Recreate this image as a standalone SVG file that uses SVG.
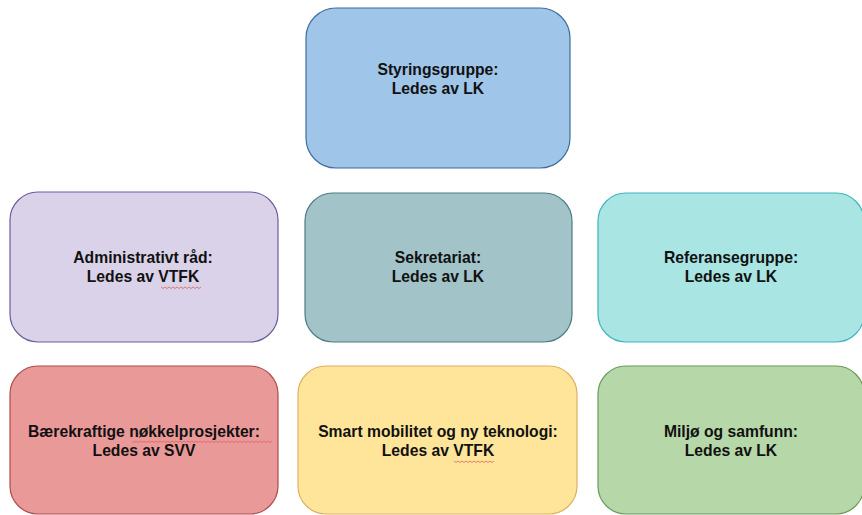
<svg xmlns="http://www.w3.org/2000/svg" width="862" height="515" viewBox="0 0 862 515">
<style>
rect{stroke-width:1.2}
text{font-family:"Liberation Sans",Arial,sans-serif;font-size:15.7px;font-weight:bold;fill:#111;text-anchor:middle}
.sq{fill:none;stroke:#e06060;stroke-width:0.8}
</style>
<rect width="862" height="515" fill="#fff"/>
<g id="connectors"></g>
<g id="styringsgruppe">
<rect x="306" y="8" width="264" height="160" rx="30" fill="#9fc5e8" stroke="#3f6d9f"/>
<text x="438" y="75">Styringsgruppe:</text>
<text x="438" y="94">Ledes av LK</text>
</g>
<g id="administrativt">
<rect x="10" y="192" width="268" height="150" rx="28" fill="#d9d2e9" stroke="#6b5c9c"/>
<text x="143" y="263">Administrativt råd:</text>
<text x="143" y="282">Ledes av VTFK</text>
<path class="sq" d="M161 287 l2 1.5 l2 -1.5 l2 1.5 l2 -1.5 l2 1.5 l2 -1.5 l2 1.5 l2 -1.5 l2 1.5 l2 -1.5 l2 1.5 l2 -1.5 l2 1.5 l2 -1.5 l2 1.5 l2 -1.5 l2 1.5 l2 -1.5 l2 1.5 l2 -1.5"/>
</g>
<g id="sekretariat">
<rect x="305" y="193" width="267" height="149" rx="28" fill="#a2c4c9" stroke="#4b7c82"/>
<text x="438" y="263">Sekretariat:</text>
<text x="438" y="282">Ledes av LK</text>
</g>
<g id="referansegruppe">
<rect x="598" y="193" width="266" height="149" rx="28" fill="#a8e5e3" stroke="#3fb4bd"/>
<text x="731" y="263">Referansegruppe:</text>
<text x="731" y="282">Ledes av LK</text>
</g>
<g id="baerekraftige">
<rect x="10" y="366" width="268" height="148" rx="28" fill="#ea9999" stroke="#b04a4a"/>
<text x="144" y="437">Bærekraftige nøkkelprosjekter:</text>
<text x="144" y="456">Ledes av SVV</text>
<path class="sq" d="M132 441 l2 1.5 l2 -1.5 l2 1.5 l2 -1.5 l2 1.5 l2 -1.5 l2 1.5 l2 -1.5 l2 1.5 l2 -1.5 l2 1.5 l2 -1.5 l2 1.5 l2 -1.5 l2 1.5 l2 -1.5 l2 1.5 l2 -1.5 l2 1.5 l2 -1.5 l2 1.5 l2 -1.5 l2 1.5 l2 -1.5 l2 1.5 l2 -1.5 l2 1.5 l2 -1.5 l2 1.5 l2 -1.5 l2 1.5 l2 -1.5 l2 1.5 l2 -1.5 l2 1.5 l2 -1.5 l2 1.5 l2 -1.5 l2 1.5 l2 -1.5 l2 1.5 l2 -1.5 l2 1.5 l2 -1.5 l2 1.5 l2 -1.5 l2 1.5 l2 -1.5 l2 1.5 l2 -1.5 l2 1.5 l2 -1.5 l2 1.5 l2 -1.5 l2 1.5 l2 -1.5 l2 1.5 l2 -1.5 l2 1.5 l2 -1.5 l2 1.5 l2 -1.5 l2 1.5 l2 -1.5 l2 1.5 l2 -1.5 l2 1.5 l2 -1.5 l2 1.5 l2 -1.5"/>
</g>
<g id="smart-mobilitet">
<rect x="298" y="366" width="279" height="148" rx="28" fill="#ffe599" stroke="#e0b060"/>
<text x="438" y="437">Smart mobilitet og ny teknologi:</text>
<text x="438" y="456">Ledes av VTFK</text>
<path class="sq" d="M454 461 l2 1.5 l2 -1.5 l2 1.5 l2 -1.5 l2 1.5 l2 -1.5 l2 1.5 l2 -1.5 l2 1.5 l2 -1.5 l2 1.5 l2 -1.5 l2 1.5 l2 -1.5 l2 1.5 l2 -1.5 l2 1.5 l2 -1.5 l2 1.5 l2 -1.5"/>
</g>
<g id="miljo">
<rect x="598" y="366" width="266" height="148" rx="28" fill="#b6d7a8" stroke="#6a9a58"/>
<text x="731" y="437">Miljø og samfunn:</text>
<text x="731" y="456">Ledes av LK</text>
</g>
</svg>
